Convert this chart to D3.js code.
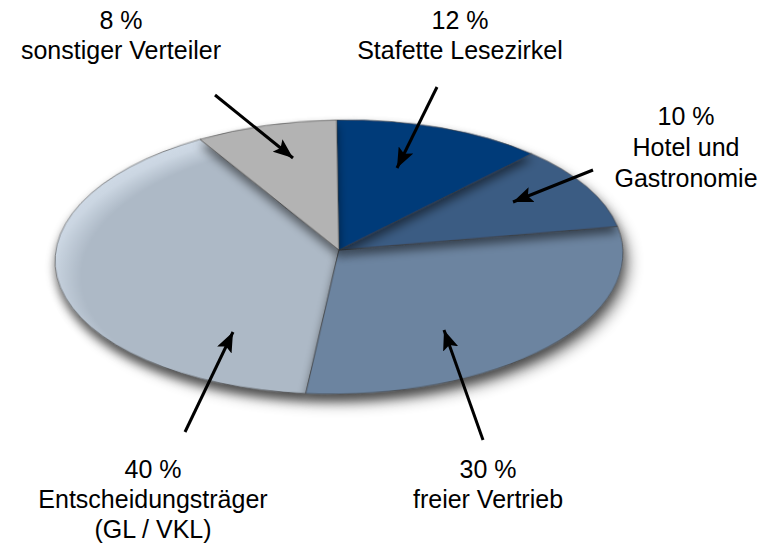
<!DOCTYPE html>
<html>
<head>
<meta charset="utf-8">
<script src="https://cdn.jsdelivr.net/npm/d3@7"></script>
<style>
  body { margin: 0; background: #fff; }
  svg { display: block; }
</style>
</head>
<body>
<script>
// data, clockwise from 12 o'clock
const categories = ["Stafette Lesezirkel", "Hotel und Gastronomie", "freier Vertrieb", "Entscheidungsträger (GL / VKL)", "sonstiger Verteiler"]
const shares = [12, 10, 30, 40, 8]
const nameLines = [["Stafette Lesezirkel"], ["Hotel und", "Gastronomie"], ["freier Vertrieb"], ["Entscheidungsträger", "(GL / VKL)"], ["sonstiger Verteiler"]]
const colors = ["#003b79", "#3b5b83", "#6c84a0", "#adb9c6", "#b3b3b3"]

// label layout (x centre, first baseline, line step)
const labelPos = [[460, 29, 30], [686, 125, 31], [488, 478, 30], [153, 478, 30], [121, 29, 30]]
// arrows: tail -> tip
const arrows = [
  [[437, 87], [397, 168]],
  [[593, 170], [513, 202]],
  [[483, 440], [444, 330]],
  [[185, 432], [233, 332]],
  [[215, 95], [293, 158]]
]
const drawOrder = [3, 2, 1, 0, 4]

const W = 765, H = 549
const cx = 339, cy = 257, rx = 284, ry = 137, apexLift = 7

const svg = d3.select("body")
  .append("svg")
    .attr("width", W)
    .attr("height", H)

const defs = svg.append("defs")

const sh = defs.append("filter")
  .attr("id", "sliceShadow")
  .attr("x", "-30%").attr("y", "-30%")
  .attr("width", "160%").attr("height", "170%")
sh.append("feGaussianBlur").attr("in", "SourceAlpha").attr("stdDeviation", 5).attr("result", "blur")
sh.append("feOffset").attr("in", "blur").attr("dx", 0).attr("dy", 6).attr("result", "off")
sh.append("feFlood").attr("flood-color", "#000").attr("flood-opacity", 0.5)
sh.append("feComposite").attr("in2", "off").attr("operator", "in").attr("result", "shadow")
const mg = sh.append("feMerge")
mg.append("feMergeNode").attr("in", "shadow")
mg.append("feMergeNode").attr("in", "SourceGraphic")

defs.append("filter")
  .attr("id", "blur")
  .attr("x", "-20%").attr("y", "-30%")
  .attr("width", "140%").attr("height", "160%")
  .append("feGaussianBlur").attr("stdDeviation", 7)

const rim = defs.append("radialGradient")
  .attr("id", "rim")
  .attr("gradientUnits", "userSpaceOnUse")
  .attr("gradientTransform", `scale(${rx},${ry})`)
  .attr("cx", 0.08).attr("cy", 0.12).attr("r", 1.15)
rim.append("stop").attr("offset", 0).attr("stop-color", colors[3])
rim.append("stop").attr("offset", 0.86).attr("stop-color", colors[3])
rim.append("stop").attr("offset", 0.95).attr("stop-color", "#cbd6e2")
rim.append("stop").attr("offset", 1).attr("stop-color", "#cfdae6")

const pie = d3.pie().sort(null).value(d => d)
const arcs = pie(shares)

const edge = a => [rx * Math.sin(a), -ry * Math.cos(a)]
const slicePath = d => {
  const p0 = edge(d.startAngle), p1 = edge(d.endAngle)
  const large = d.endAngle - d.startAngle > Math.PI ? 1 : 0
  return `M0,${-apexLift}L${p0[0]},${p0[1]}A${rx},${ry} 0 ${large} 1 ${p1[0]},${p1[1]}Z`
}

const g = svg.append("g")
  .attr("transform", `translate(${cx},${cy}) rotate(-1)`)

// shadow under the whole disc
g.append("ellipse")
  .attr("cx", 7)
  .attr("cy", 10)
  .attr("rx", rx)
  .attr("ry", ry)
  .attr("fill", "#000")
  .attr("opacity", 0.4)
  .attr("filter", "url(#blur)")

g.selectAll("path.slice")
  .data(drawOrder.map(i => arcs[i]))
  .join("path")
    .attr("class", "slice")
    .attr("d", slicePath)
    .attr("fill", d => d.index === 3 ? "url(#rim)" : colors[d.index])
    .attr("stroke", "#3a3a3a")
    .attr("stroke-width", 0.6)
    .attr("filter", "url(#sliceShadow)")

// arrows
defs.append("marker")
  .attr("id", "head")
  .attr("markerUnits", "userSpaceOnUse")
  .attr("viewBox", "0 0 20 16")
  .attr("markerWidth", 20)
  .attr("markerHeight", 16)
  .attr("refX", 20)
  .attr("refY", 8)
  .attr("orient", "auto")
  .append("path")
    .attr("d", "M0,0L20,8L0,16L4,8Z")
    .attr("fill", "#000")

svg.selectAll("line.arrow")
  .data(arrows)
  .join("line")
    .attr("class", "arrow")
    .attr("x1", d => d[0][0])
    .attr("y1", d => d[0][1])
    .attr("x2", d => d[1][0])
    .attr("y2", d => d[1][1])
    .attr("stroke", "#000")
    .attr("stroke-width", 3)
    .attr("marker-end", "url(#head)")

// labels
const lab = svg.selectAll("text.label")
  .data(shares.map((s, i) => ({ lines: [`${s} %`].concat(nameLines[i]), pos: labelPos[i] })))
  .join("text")
    .attr("class", "label")
    .attr("text-anchor", "middle")
    .style("font-family", "'Liberation Sans', Arial, sans-serif")
    .style("font-size", "25px")
    .attr("fill", "#000")

lab.selectAll("tspan")
  .data(d => d.lines.map((t, j) => ({ t, x: d.pos[0], y: d.pos[1] + j * d.pos[2] })))
  .join("tspan")
    .attr("x", d => d.x)
    .attr("y", d => d.y)
    .text(d => d.t)
</script>
</body>
</html>
